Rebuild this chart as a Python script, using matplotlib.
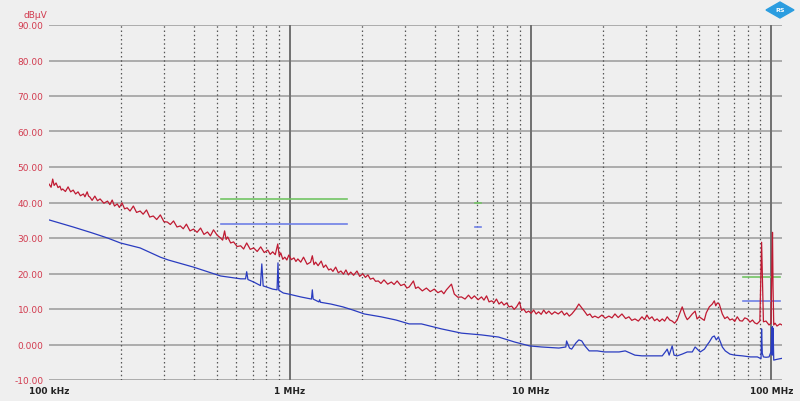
"""EMI spectrum scan, 100 kHz - 100 MHz, peak (red) and average (blue) traces."""
import matplotlib

matplotlib.use("Agg")
import matplotlib.pyplot as plt
from matplotlib.patches import Polygon
from matplotlib.ticker import FixedLocator, NullFormatter

# peak trace: (MHz, dBuV)
red_points = [
    (0.100, 45.2), (0.102, 44.3), (0.1036, 46.6), (0.105, 44.8), (0.107, 45.5),
    (0.109, 44.2), (0.111, 44.6), (0.1125, 43.5), (0.114, 43.8), (0.117, 43.1),
    (0.120, 44.4), (0.123, 43.0), (0.126, 43.5), (0.129, 42.4), (0.132, 43.0),
    (0.135, 41.9), (0.139, 42.4), (0.141, 41.6), (0.144, 43.0), (0.146, 41.8),
    (0.148, 41.5), (0.151, 40.6), (0.155, 41.8), (0.159, 40.5), (0.163, 41.0),
    (0.169, 39.8), (0.175, 40.4), (0.179, 39.4), (0.183, 40.7), (0.187, 39.0),
    (0.192, 39.6), (0.196, 38.6), (0.201, 39.9), (0.206, 38.2), (0.211, 38.5),
    (0.217, 37.6), (0.224, 39.0), (0.231, 37.2), (0.239, 37.6), (0.246, 36.7),
    (0.254, 37.9), (0.262, 35.9), (0.271, 36.2), (0.280, 35.2), (0.290, 36.5),
    (0.300, 34.6), (0.310, 34.5), (0.319, 33.8), (0.329, 34.8), (0.340, 33.1),
    (0.351, 33.4), (0.361, 32.6), (0.372, 33.9), (0.385, 32.0), (0.398, 32.5),
    (0.412, 31.6), (0.426, 32.8), (0.440, 31.0), (0.455, 31.7), (0.468, 30.6),
    (0.482, 32.3), (0.499, 30.8), (0.516, 30.0), (0.526, 29.4), (0.536, 32.0),
    (0.544, 29.6), (0.552, 30.3), (0.568, 28.6), (0.584, 28.9), (0.604, 27.6),
    (0.625, 27.8), (0.643, 26.9), (0.662, 28.6), (0.685, 26.8), (0.708, 27.2),
    (0.732, 26.2), (0.757, 27.5), (0.783, 25.9), (0.810, 26.6), (0.829, 25.4),
    (0.849, 26.1), (0.870, 25.3), (0.891, 28.3), (0.904, 24.9), (0.917, 25.8),
    (0.935, 24.0), (0.953, 24.6), (0.972, 23.8), (0.990, 25.2), (1.015, 23.9),
    (1.04, 24.4), (1.06, 23.4), (1.08, 24.1), (1.11, 23.2), (1.14, 24.6),
    (1.18, 22.6), (1.22, 23.2), (1.24, 25.0), (1.26, 22.5), (1.28, 23.2),
    (1.31, 22.2), (1.35, 23.5), (1.38, 21.7), (1.41, 22.4), (1.45, 21.0),
    (1.48, 21.3), (1.51, 20.6), (1.55, 21.8), (1.59, 20.2), (1.63, 20.7),
    (1.67, 19.8), (1.71, 21.0), (1.75, 19.6), (1.79, 20.4), (1.84, 19.5),
    (1.90, 20.7), (1.95, 19.2), (2.01, 19.9), (2.06, 18.9), (2.11, 19.6),
    (2.16, 18.4), (2.22, 18.7), (2.27, 17.8), (2.33, 17.9), (2.39, 17.2),
    (2.46, 18.2), (2.55, 17.0), (2.64, 17.6), (2.71, 16.9), (2.79, 17.9),
    (2.89, 16.6), (2.99, 17.0), (3.06, 15.9), (3.13, 16.2), (3.26, 17.9),
    (3.33, 15.8), (3.41, 16.2), (3.55, 15.1), (3.69, 15.9), (3.83, 14.9),
    (3.98, 15.6), (4.12, 14.6), (4.26, 15.1), (4.36, 14.3), (4.47, 15.4),
    (4.69, 17.0), (4.82, 14.2), (4.99, 13.3), (5.16, 13.4), (5.34, 12.8),
    (5.52, 13.9), (5.68, 12.9), (5.84, 13.7), (6.05, 12.6), (6.25, 13.4),
    (6.40, 12.5), (6.56, 13.7), (6.72, 12.0), (6.88, 12.3), (7.05, 11.8),
    (7.21, 12.8), (7.39, 11.4), (7.57, 12.0), (7.75, 11.1), (7.94, 11.7),
    (8.14, 10.6), (8.34, 10.8), (8.54, 9.9), (8.74, 10.6), (8.99, 12.0),
    (9.17, 9.6), (9.35, 10.0), (9.58, 9.0), (9.81, 9.4), (10.05, 8.8),
    (10.29, 9.7), (10.54, 8.6), (10.79, 9.2), (11.06, 8.5), (11.33, 9.7),
    (11.61, 8.7), (11.89, 9.4), (12.24, 8.5), (12.59, 9.2), (13.02, 8.6),
    (13.46, 9.4), (13.80, 8.3), (14.13, 8.9), (14.47, 8.0), (14.82, 8.6),
    (15.4, 10.0), (15.85, 11.4), (16.31, 10.3), (16.79, 9.2), (17.2, 8.2),
    (17.62, 8.6), (18.05, 7.6), (18.48, 8.0), (19.1, 7.5), (19.77, 8.3),
    (20.4, 7.4), (21.13, 8.0), (21.76, 7.5), (22.39, 8.6), (23.1, 7.6),
    (23.94, 8.6), (24.8, 7.3), (25.59, 7.8), (26.3, 6.8), (27.12, 7.2),
    (28.0, 6.6), (29.0, 7.8), (29.7, 7.0), (30.4, 8.3), (31.1, 7.2),
    (31.9, 7.8), (32.7, 6.7), (33.5, 7.2), (34.3, 6.5), (35.2, 7.2),
    (36.0, 6.6), (36.9, 7.8), (37.8, 6.9), (38.7, 6.6), (39.6, 6.0),
    (40.6, 6.9), (42.6, 10.6), (43.9, 8.0), (44.7, 7.0), (45.5, 7.5),
    (46.9, 8.6), (48.2, 9.4), (49.1, 7.2), (50.1, 7.8), (51.6, 7.2),
    (52.6, 6.8), (53.6, 8.9), (55.2, 10.6), (56.8, 11.4), (57.9, 12.3),
    (58.7, 10.9), (59.6, 11.7), (60.7, 11.4), (62.5, 8.6), (64.0, 7.3),
    (65.6, 7.8), (67.2, 6.9), (68.8, 7.2), (70.4, 6.5), (72.1, 7.8),
    (73.9, 6.7), (75.7, 6.6), (77.5, 7.5), (79.4, 7.2), (81.4, 6.3),
    (83.4, 6.9), (85.2, 6.1), (87.1, 5.8), (89.5, 6.6), (91.0, 28.8),
    (91.6, 20.5), (92.6, 6.4), (94.9, 6.6), (97.7, 5.5), (99.6, 6.0),
    (100.5, 24.6), (101.0, 31.6), (101.5, 16.5), (102.2, 5.5), (103.5, 6.0),
    (105.4, 5.2), (108.5, 5.8), (110.6, 5.5),
]

# average trace: (MHz, dBuV)
blue_points = [
    (0.100, 35.1), (0.126, 33.1), (0.150, 31.5), (0.175, 30.0), (0.198, 28.6),
    (0.239, 27.2), (0.290, 24.6), (0.313, 23.8), (0.398, 21.8), (0.516, 19.3),
    (0.625, 18.5), (0.655, 18.5), (0.662, 20.5), (0.670, 18.3), (0.708, 17.6),
    (0.755, 16.6), (0.765, 22.7), (0.775, 16.5), (0.80, 16.2), (0.849, 15.6),
    (0.885, 15.4), (0.893, 23.0), (0.90, 15.3), (0.94, 14.5), (0.99, 14.2),
    (1.11, 13.4), (1.23, 12.8), (1.24, 15.4), (1.25, 12.8), (1.32, 12.0),
    (1.33, 12.6), (1.34, 11.9), (1.48, 11.4), (1.66, 10.6), (1.83, 9.7),
    (2.04, 8.6), (2.39, 7.8), (2.76, 6.9), (3.13, 5.8), (3.52, 5.8),
    (4.26, 4.4), (5.16, 3.2), (6.25, 2.7), (7.36, 2.1), (8.58, 0.7),
    (9.9, -0.4), (11.1, -0.7), (13.1, -1.0), (14.0, -0.7), (14.1, 1.0),
    (14.5, -1.0), (14.8, -1.3), (15.4, 0.4), (15.85, 1.3), (16.3, 1.0),
    (16.8, -0.4), (17.5, -1.8), (18.9, -1.8), (20.3, -2.1), (21.8, -2.1),
    (23.3, -2.1), (24.7, -1.8), (25.9, -2.4), (27.1, -3.0), (29.0, -3.2),
    (31.3, -3.2), (33.9, -3.2), (35.2, -3.2), (36.5, -1.8), (36.9, -1.3),
    (37.6, -3.0), (38.7, -0.4), (39.4, -3.0), (40.6, -3.2), (42.6, -2.7),
    (44.7, -2.1), (46.9, -2.1), (48.2, -0.7), (49.2, -1.3), (50.6, -2.1),
    (52.7, -1.3), (54.1, -0.1), (55.2, 0.7), (56.8, 2.1), (57.9, 2.4),
    (59.0, 1.3), (60.2, 2.1), (61.4, 0.7), (62.5, -0.7), (64.3, -1.8),
    (67.2, -2.7), (70.3, -3.0), (75.7, -3.2), (81.8, -3.5), (87.4, -3.5),
    (90.5, -4.0), (91.0, 4.4), (91.6, -2.5), (92.6, -3.5), (95.0, -3.6),
    (97.7, -3.5), (99.6, -2.0), (100.3, 4.8), (100.7, -3.0), (101.0, 5.0),
    (101.3, -2.0), (101.6, 4.5), (102.2, -4.4), (105.0, -4.2), (108.5, -4.0),
    (110.6, -3.9),
]

# limit lines: (start MHz, stop MHz, level dBuV)
peak_limits = [(0.52, 1.73, 41.0), (5.85, 6.25, 40.0), (76.0, 108.0, 19.0)]
avg_limits = [(0.52, 1.73, 34.0), (5.85, 6.25, 33.0), (76.0, 108.0, 12.2)]

y_ticks = [90, 80, 70, 60, 50, 40, 30, 20, 10, 0, -10]
y_labels = ["90.00", "80.00", "70.00", "60.00", "50.00", "40.00",
            "30.00", "20.00", "10.00", "0.000", "-10.00"]
x_ticks = [0.1, 1, 10, 100]
x_labels = ["100 kHz", "1 MHz", "10 MHz", "100 MHz"]

bg = "#efefef"
label_red = "#d23a4e"

red_freq = [p[0] for p in red_points]
red_level = [p[1] for p in red_points]
blue_freq = [p[0] for p in blue_points]
blue_level = [p[1] for p in blue_points]

fig = plt.figure(figsize=(8, 4.02), dpi=100, facecolor=bg)
ax = fig.add_axes([49 / 800, 21 / 402, 733 / 800, 355 / 402], facecolor=bg)

ax.set_xscale("log")
ax.set_xlim(0.1, 110.6)
ax.set_ylim(-10, 90)

# grid
for y in y_ticks:
    ax.axhline(y, color="#9a9a9a", lw=1.1, zorder=1)
minor = [m * 10.0 ** d for d in range(-1, 2) for m in range(2, 10)]
for x in minor:
    ax.axvline(x, color="#555555", lw=0.9, ls=(0, (1.2, 2.2)), zorder=1)
for x in x_ticks[1:]:
    ax.axvline(x, color="#707070", lw=1.4, zorder=1)

# limit lines
for f0, f1, lvl in peak_limits:
    ax.plot([f0, f1], [lvl, lvl], color="#72c463", lw=1.2, zorder=2)
for f0, f1, lvl in avg_limits:
    ax.plot([f0, f1], [lvl, lvl], color="#6f80e6", lw=1.2, zorder=2)

# traces
ax.plot(blue_freq, blue_level, color="#2a3cc0", lw=0.9, zorder=3)
ax.plot(red_freq, red_level, color="#c01a32", lw=0.9, zorder=4)

for s in ax.spines.values():
    s.set_visible(False)

ax.set_yticks(y_ticks)
ax.set_yticklabels(y_labels)
ax.xaxis.set_major_locator(FixedLocator(x_ticks))
ax.xaxis.set_minor_locator(FixedLocator(minor))
ax.xaxis.set_minor_formatter(NullFormatter())
ax.set_xticklabels(x_labels)
ax.tick_params(axis="y", length=0, pad=4, labelsize=6.5, labelcolor=label_red)
ax.tick_params(axis="x", which="both", length=0, pad=4.5, labelsize=6.5,
               labelcolor="#222222")
for t in ax.get_xticklabels():
    t.set_fontweight("bold")

fig.text(47 / 800, 1 - 15 / 402, "dBµV", color=label_red, fontsize=6.5,
         ha="right", va="center")

# R&S diamond logo
cx, cy, w, h = 780 / 800, 1 - 11 / 402, 14 / 800, 8 / 402
logo = Polygon([(cx - w, cy), (cx, cy + h), (cx + w, cy), (cx, cy - h)],
               closed=True, transform=fig.transFigure, facecolor="#2b9de0",
               edgecolor="#2b9de0")
fig.patches.append(logo)
fig.text(cx, cy, "RS", color="white", fontsize=4.5, fontweight="bold",
         ha="center", va="center")

fig.savefig("out.png", dpi=100, facecolor=bg)
